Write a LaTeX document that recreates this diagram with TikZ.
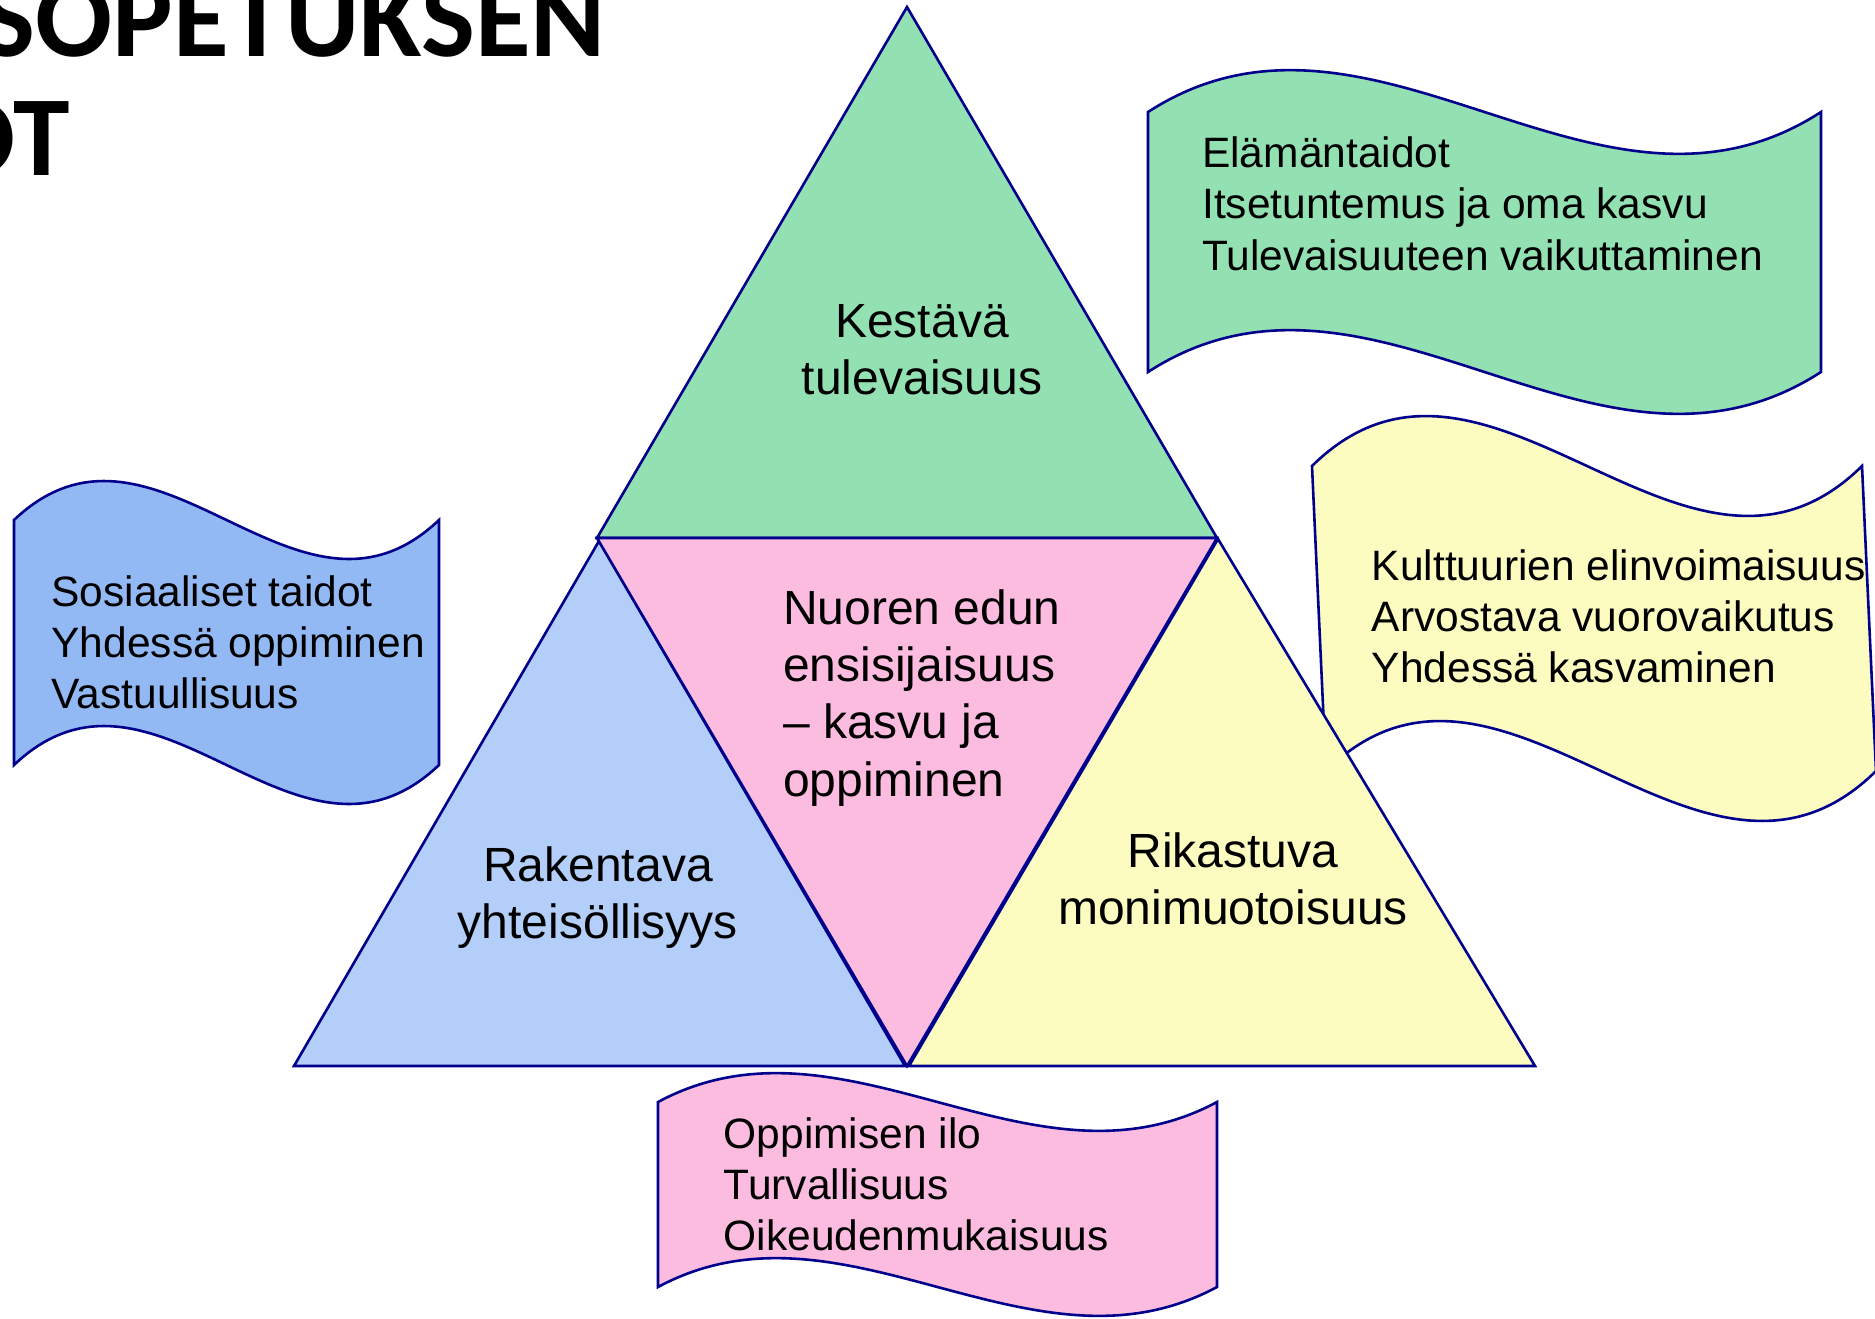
\documentclass[tikz,border=0pt]{standalone}
\usepackage{fontspec}
\setmainfont{Liberation Sans}
\newfontfamily\titlefont{Carlito}
\definecolor{edge}{RGB}{0,0,140}
\definecolor{tgreen}{RGB}{147,225,179}
\definecolor{tpink}{RGB}{251,188,224}
\definecolor{tblue}{RGB}{179,206,248}
\definecolor{tyellow}{RGB}{252,251,192}
\definecolor{fblue}{RGB}{147,185,245}
\begin{document}
\begin{tikzpicture}[x=1pt,y=-1pt,
  outline/.style={draw=edge, line width=2.6pt, line join=miter},
  biglabel/.style={font=\fontsize{48}{57.4}\selectfont, align=center, inner sep=0pt, anchor=base},
  flagtext/.style={font=\fontsize{42.5}{51.4}\selectfont, align=left, inner sep=0pt, anchor=base west},
  titletext/.style={font=\titlefont\bfseries\fontsize{114}{120}\selectfont, inner sep=0pt, anchor=base east}]
\useasboundingbox (0,0) rectangle (1875,1318);
\clip (0,0) rectangle (1875,1318);
% corner points of the triangles
\coordinate (A) at (907,7);
\coordinate (GL) at (597,538);
\coordinate (GR) at (1217,538);
\coordinate (BM) at (907,1066);
\coordinate (BL) at (294,1066);
\coordinate (BR) at (1535,1066);
\coordinate (BA) at (599,541);
\coordinate (BMl) at (905,1066);
\coordinate (YA) at (1218,539);
\coordinate (BMr) at (909,1066);
% flags
\draw[outline, fill=tyellow] (1312,466) .. controls (1487,293) and (1687,639) .. (1862,466)
  -- (1876,771) .. controls (1701,944) and (1501,598) .. (1326,771) -- cycle;
\draw[outline, fill=tgreen] (1148,112) .. controls (1372,-33) and (1597,257) .. (1821,112)
  -- (1821,372) .. controls (1597,517) and (1372,227) .. (1148,372) -- cycle;
\draw[outline, fill=fblue] (14,520) .. controls (156,385) and (297,655) .. (439,520)
  -- (439,765) .. controls (297,900) and (156,630) .. (14,765) -- cycle;
\draw[outline, fill=tpink] (658,1102) .. controls (844,1002) and (1031,1202) .. (1217,1102)
  -- (1217,1287) .. controls (1031,1387) and (844,1187) .. (658,1287) -- cycle;
% triangles
\draw[outline, fill=tblue] (BL) -- (BA) -- (BMl) -- cycle;
\draw[outline, fill=tyellow] (BMr) -- (YA) -- (BR) -- cycle;
\draw[outline, fill=tgreen] (A) -- (GR) -- (GL) -- cycle;
\draw[outline, fill=tpink] (GL) -- (GR) -- (BM) -- cycle;
% title (cut at the left edge)
\node[titletext] (t1) at (606,56) {SOPETUKSEN};
\node[titletext] (t2) at (70,175) {OT};
% triangle labels (anchor = baseline of the last line)
\node[biglabel] (kest) at (922,394.4) {Kestävä\\tulevaisuus};
\node[biglabel, align=left, anchor=base west] (nuor) at (783,796.2) {Nuoren edun\\ensisijaisuus\\– kasvu ja\\oppiminen};
\node[biglabel] (rak) at (598,938.4) {Rakentava\\yhteisöllisyys};
\node[biglabel] (rik) at (1233,924.4) {Rikastuva\\monimuotoisuus};
% flag texts
\node[flagtext] (gtext) at (1202,270.2) {Elämäntaidot\\Itsetuntemus ja oma kasvu\\Tulevaisuuteen vaikuttaminen};
\node[flagtext] (ytext) at (1371.6,682.8) {Kulttuurien elinvoimaisuus\\Arvostava vuorovaikutus\\Yhdessä kasvaminen};
\node[flagtext] (btext) at (51.4,708.8) {Sosiaaliset taidot\\Yhdessä oppiminen\\Vastuullisuus};
\node[flagtext] (ptext) at (723.5,1250.8) {Oppimisen ilo\\Turvallisuus\\Oikeudenmukaisuus};
\end{tikzpicture}
\end{document}
